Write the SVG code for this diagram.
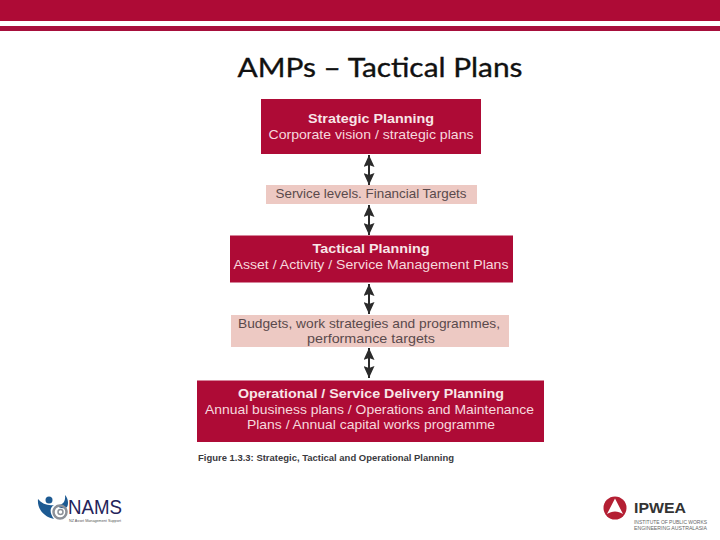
<svg xmlns="http://www.w3.org/2000/svg" width="720" height="540" viewBox="0 0 720 540">
<style>
text{font-family:"Liberation Sans",Arial,sans-serif;text-anchor:middle}
.box{fill:#ae0b36}
.pale{fill:#edc9c3}
.h{fill:#f8e6e8;font-size:13px;font-weight:700}
.w{fill:#f6d9de;font-size:13px}
.d{fill:#5a4a4c;font-size:13px}
.arr{stroke:#2b2b2b;stroke-width:2;fill:none;marker-start:url(#head);marker-end:url(#head)}
</style>
<defs>
<marker id="head" markerUnits="userSpaceOnUse" markerWidth="13" markerHeight="11" refX="12" refY="5.500" orient="auto-start-reverse"><path d="M0 0L12 5.500L0 11L2 5.500Z" fill="#2b2b2b"/></marker>
</defs>
<rect width="720" height="540" fill="#fff"/>
<g id="header">
<rect width="720" height="21" fill="#ae0b36"/>
<rect y="26" width="720" height="5" fill="#a70f3c"/>
<text x="380" y="77" style="font-family:Lato,'Open Sans',sans-serif;font-size:27.5px;fill:#111;stroke:#111;stroke-width:.35" textLength="285" lengthAdjust="spacingAndGlyphs">AMPs – Tactical Plans</text>
</g>
<g id="connectors">
<path class="arr" d="M369 155V185"/>
<path class="arr" d="M369 205V235"/>
<path class="arr" d="M369 284V314"/>
<path class="arr" d="M369 348V378"/>
</g>
<g id="strategic">
<rect class="box" x="261" y="99" width="220" height="55"/>
<text class="h" x="371" y="123" textLength="126" lengthAdjust="spacingAndGlyphs">Strategic Planning</text>
<text class="w" x="371" y="139" textLength="205" lengthAdjust="spacingAndGlyphs">Corporate vision / strategic plans</text>
</g>
<g id="service-levels">
<rect class="pale" x="266" y="185" width="211" height="19"/>
<text class="d" x="371" y="198" textLength="191" lengthAdjust="spacingAndGlyphs">Service levels. Financial Targets</text>
</g>
<g id="tactical">
<rect class="box" x="230" y="235.500" width="283" height="47"/>
<text class="h" x="371" y="253" textLength="117" lengthAdjust="spacingAndGlyphs">Tactical Planning</text>
<text class="w" x="371" y="269" textLength="275" lengthAdjust="spacingAndGlyphs">Asset / Activity / Service Management Plans</text>
</g>
<g id="budgets">
<rect class="pale" x="231" y="315" width="278" height="32"/>
<text class="d" x="369" y="328" textLength="262" lengthAdjust="spacingAndGlyphs">Budgets, work strategies and programmes,</text>
<text class="d" x="371" y="343" textLength="128" lengthAdjust="spacingAndGlyphs">performance targets</text>
</g>
<g id="operational">
<rect class="box" x="197" y="380.500" width="347" height="61.500"/>
<text class="h" x="371" y="398" textLength="266" lengthAdjust="spacingAndGlyphs">Operational / Service Delivery Planning</text>
<text class="w" x="369.500" y="414" textLength="329" lengthAdjust="spacingAndGlyphs">Annual business plans / Operations and Maintenance</text>
<text class="w" x="371" y="429" textLength="248" lengthAdjust="spacingAndGlyphs">Plans / Annual capital works programme</text>
</g>
<text x="326" y="461" textLength="256" lengthAdjust="spacingAndGlyphs" style="font-size:9.500px;font-weight:700;fill:#3a3a40">Figure 1.3.3: Strategic, Tactical and Operational Planning</text>
<g id="nams-logo">
<path d="M38 499C37 509 44 517 54 519C50 514 49 508 54 505C48 506 42 504 38 499Z" fill="#1d5a92"/>
<path d="M65 495C66 502 62 506 56 505C60 509 65 509 67 507C69 504 68 498 65 495Z" fill="#1d5a92"/>
<circle cx="49" cy="500" r="3.500" fill="#1d5a92"/>
<circle cx="60" cy="512" r="6.500" fill="none" stroke="#8c9098" stroke-width="2.500"/>
<circle cx="60.500" cy="512" r="2.500" fill="none" stroke="#8c9098" stroke-width="1.500"/>
<text x="95" y="514" textLength="54" lengthAdjust="spacingAndGlyphs" style="font-size:19.500px;fill:#24245a">NAMS</text>
<text x="95" y="522" textLength="52" lengthAdjust="spacingAndGlyphs" style="font-size:4px;fill:#555">NZ Asset Management Support</text>
</g>
<g id="ipwea-logo">
<circle cx="615" cy="508" r="11.500" fill="#b41f33"/>
<path d="M615 498.500L623 514C618 510.500 612 510.500 607 514Z" fill="#fff"/>
<text x="660" y="513" textLength="52" lengthAdjust="spacingAndGlyphs" style="font-size:15.500px;font-weight:700;fill:#333">IPWEA</text>
<text x="670.500" y="524" textLength="73" lengthAdjust="spacingAndGlyphs" style="font-size:5px;fill:#666">INSTITUTE OF PUBLIC WORKS</text>
<text x="670.500" y="530" textLength="73" lengthAdjust="spacingAndGlyphs" style="font-size:5px;fill:#666">ENGINEERING AUSTRALASIA</text>
</g>
</svg>
